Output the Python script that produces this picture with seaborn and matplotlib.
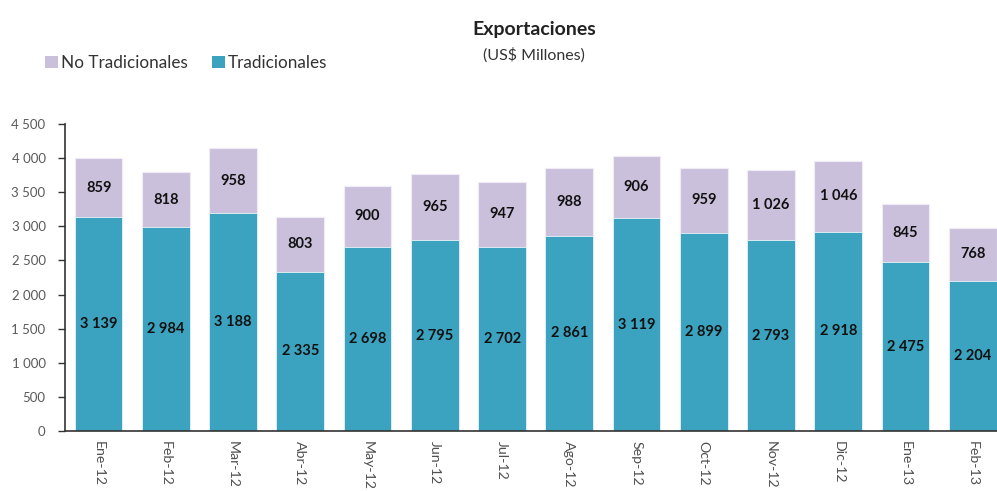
import matplotlib
matplotlib.use("Agg")
import matplotlib.pyplot as plt
from matplotlib.patches import Patch
import seaborn as sns
import pandas as pd

# Monthly exports, US$ millions
months = ["Ene-12", "Feb-12", "Mar-12", "Abr-12", "May-12", "Jun-12", "Jul-12",
          "Ago-12", "Sep-12", "Oct-12", "Nov-12", "Dic-12", "Ene-13", "Feb-13"]
tradicionales = [3139, 2984, 3188, 2335, 2698, 2795, 2702, 2861, 3119, 2899, 2793, 2918, 2475, 2204]
no_tradicionales = [859, 818, 958, 803, 900, 965, 947, 988, 906, 959, 1026, 1046, 845, 768]

TEAL = "#3ba3bf"
LAVENDER = "#cbc0dc"

sns.set_style("white")
plt.rcParams["font.family"] = ["Lato", "DejaVu Sans"]

df = pd.DataFrame({"mes": months, "trad": tradicionales, "notrad": no_tradicionales})
df["total"] = df["trad"] + df["notrad"]


def fmt(v):
    return f"{v:,}".replace(",", " ")


fig = plt.figure(figsize=(9.97, 4.91), dpi=100)
ax = fig.add_axes([0.0652, 0.1222, 0.9348, 0.6253])

# Stacked bars: totals underneath, traditional exports on top of them
sns.barplot(data=df, x="mes", y="total", color=LAVENDER, saturation=1, width=0.71,
            edgecolor="#f0ecf5", linewidth=0.8, ax=ax)
sns.barplot(data=df, x="mes", y="trad", color=TEAL, saturation=1, width=0.71,
            edgecolor="#e8f3f7", linewidth=0.6, ax=ax)

for i, (t, n) in enumerate(zip(tradicionales, no_tradicionales)):
    ax.text(i, t / 2, fmt(t), ha="center", va="center", fontsize=10.5,
            fontweight="bold", color="#111111")
    ax.text(i, t + n / 2, fmt(n), ha="center", va="center", fontsize=10.5,
            fontweight="bold", color="#111111")

ax.set_ylim(0, 4500)
ax.set_xlim(-0.5, 13.36)
ax.set_yticks(range(0, 4501, 500))
ax.set_yticklabels([fmt(v) for v in range(0, 4501, 500)])
ax.set_xlabel("")
ax.set_ylabel("")
ax.tick_params(axis="y", direction="out", length=5, width=1, color="#333333",
               labelsize=9.5, labelcolor="#5a5a5a", pad=9, left=True)
ax.tick_params(axis="x", length=0, labelsize=10.2, labelcolor="#505050", pad=7)
for lbl in ax.get_xticklabels():
    lbl.set_rotation(270)
    lbl.set_va("top")
    lbl.set_ha("center")

sns.despine(ax=ax, top=True, right=True)
for side in ("left", "bottom"):
    ax.spines[side].set_color("#333333")
    ax.spines[side].set_linewidth(1.2)

fig.text(0.536, 0.9287, "Exportaciones", ha="center", va="baseline",
         fontsize=14, fontweight="bold", color="#222222")
fig.text(0.536, 0.8778, "(US$ Millones)", ha="center", va="baseline",
         fontsize=11.5, color="#333333")

handles = [Patch(facecolor=LAVENDER, edgecolor="none", label="No Tradicionales"),
           Patch(facecolor=TEAL, edgecolor="none", label="Tradicionales")]
fig.legend(handles=handles, loc="center left", bbox_to_anchor=(0.045, 0.872),
           ncol=2, frameon=False, fontsize=12.3, handlelength=0.75, handleheight=0.75,
           handletextpad=0.2, columnspacing=1.4, labelcolor="#333333",
           borderaxespad=0, borderpad=0)

fig.savefig("out.png", dpi=100)
